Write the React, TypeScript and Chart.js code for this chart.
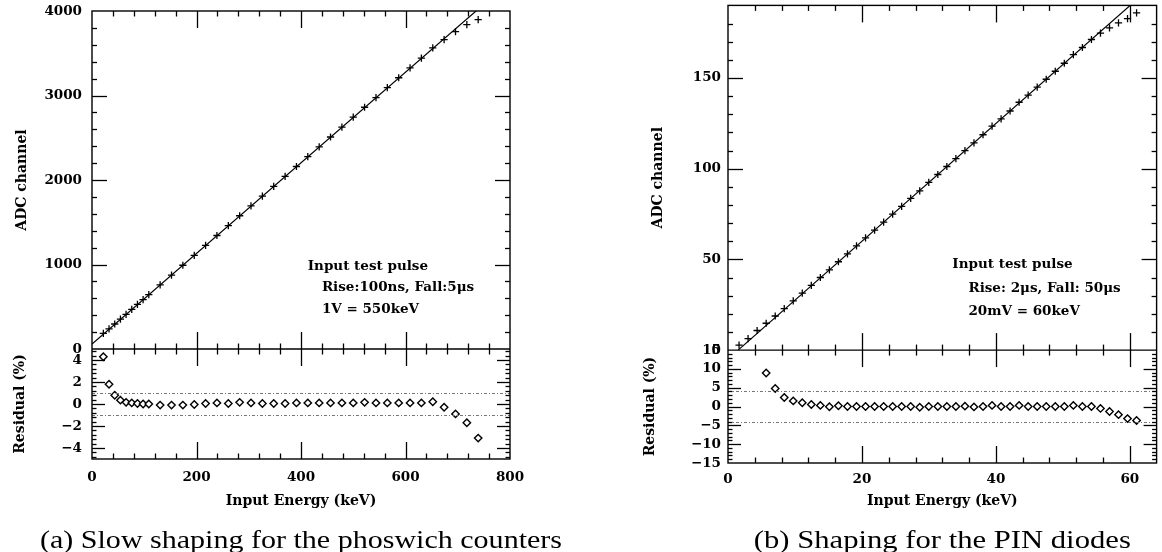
import { useEffect, useRef } from "react";
import { Chart, registerables } from "chart.js";

Chart.register(...registerables);

// ---------- (a) slow shaping, phoswich counters ----------
const energyA = [21.7, 32.6, 43.5, 54.4, 65.2, 76.1, 87.0, 97.8, 108.7, 130.4, 152.2, 173.9, 195.7, 217.4, 239.1, 260.9, 282.6, 304.3, 326.1, 347.8, 369.6, 391.3, 413.0, 434.8, 456.5, 478.3, 500.0, 521.7, 543.5, 565.2, 587.0, 608.7, 630.4, 652.2, 673.9, 695.7, 717.4, 739.1];
const channelA = [184, 239, 296, 353, 410, 468, 527, 584, 643, 758, 875, 991, 1108, 1226, 1343, 1459, 1577, 1693, 1809, 1925, 2042, 2160, 2276, 2393, 2509, 2626, 2743, 2861, 2976, 3093, 3210, 3326, 3442, 3563, 3661, 3755, 3839, 3897];
const residualA = [4.3, 1.8, 0.8, 0.35, 0.15, 0.1, 0.05, 0.0, 0.0, -0.1, -0.1, -0.1, -0.05, 0.05, 0.1, 0.05, 0.15, 0.1, 0.05, 0.05, 0.05, 0.1, 0.1, 0.1, 0.1, 0.1, 0.1, 0.15, 0.1, 0.1, 0.1, 0.1, 0.1, 0.2, -0.3, -0.9, -1.7, -3.1];
const fitEnergyA = [0, 800];
const fitChannelA = [60, 4348];
const bandA = [-1, 1];
const xTicksA = [0, 200, 400, 600, 800];
const channelTicksA = [0, 1000, 2000, 3000, 4000];
const residualTicksA = [-4, -2, 0, 2, 4];

// ---------- (b) shaping for the PIN diodes ----------
const energyB = [1.65, 3.0, 4.35, 5.7, 7.05, 8.4, 9.74, 11.09, 12.44, 13.79, 15.14, 16.49, 17.84, 19.19, 20.54, 21.89, 23.24, 24.59, 25.93, 27.28, 28.63, 29.98, 31.33, 32.68, 34.03, 35.38, 36.73, 38.08, 39.43, 40.78, 42.12, 43.47, 44.82, 46.17, 47.52, 48.87, 50.22, 51.57, 52.92, 54.27, 55.62, 56.97, 58.31, 59.66, 61.01];
const channelB = [2.7, 6.3, 10.8, 14.8, 18.8, 22.9, 27.1, 31.4, 35.7, 40.0, 44.2, 48.7, 53.0, 57.4, 61.8, 66.1, 70.5, 74.9, 79.2, 83.6, 87.8, 92.4, 96.8, 101.2, 105.5, 110.0, 114.2, 118.7, 123.4, 127.4, 131.8, 136.6, 140.5, 144.9, 149.3, 153.7, 158.1, 162.9, 166.8, 171.2, 174.7, 177.6, 180.4, 182.7, 185.9];
const residualB = [null, null, null, 8.9, 4.8, 2.4, 1.5, 1.0, 0.55, 0.3, -0.05, 0.2, 0, 0, 0, 0, 0, 0, 0, 0, -0.2, 0, 0, 0, 0, 0.1, -0.1, 0, 0.3, 0, 0, 0.3, 0, 0, 0, 0, 0, 0.3, 0, 0, -0.5, -1.3, -2.15, -3.2, -3.7];
const fitEnergyB = [1.51, 64];
const fitChannelB = [0, 202.8];
const bandB = [-4, 4];
const xTicksB = [0, 20, 40, 60];
const channelTicksB = [0, 50, 100, 150];
const residualTicksB = [-15, -10, -5, 0, 5, 10, 15];

const SERIF = "'DejaVu Serif', serif";

type Note = { text: string; x: number; y: number };

type Panel = {
  left: number;
  width: number;
  energy: number[];
  channel: number[];
  residual: (number | null)[];
  fitEnergy: number[];
  fitChannel: number[];
  band: number[];
  xTicks: number[];
  channelTicks: number[];
  residualTicks: number[];
  xRange: [number, number];
  channelRange: [number, number];
  residualRange: [number, number];
  xMinor: number;
  xMajor: number;
  channelMinor: number;
  channelMajor: number;
  residualMinor: number;
  residualMajor: number;
  mainH: number;
  resH: number;
  padding: { left: number; top: number; right: number; bottom: number };
  yWidth: number;
  yTickPad: number;
  xTickPad: number;
  adcTitlePad: number;
  resTitlePad: number;
  xTitlePad: number;
  notes: Note[];
  caption: string;
  captionWidth: number;
};

const panelA: Panel = {
  left: 0,
  width: 580,
  energy: energyA,
  channel: channelA,
  residual: residualA,
  fitEnergy: fitEnergyA,
  fitChannel: fitChannelA,
  band: bandA,
  xTicks: xTicksA,
  channelTicks: channelTicksA,
  residualTicks: residualTicksA,
  xRange: [0, 800],
  channelRange: [0, 4000],
  residualRange: [-5, 5],
  xMinor: 40,
  xMajor: 200,
  channelMinor: 200,
  channelMajor: 1000,
  residualMinor: 0.4,
  residualMajor: 2,
  mainH: 338,
  resH: 110,
  padding: { left: 0, top: 11, right: 70, bottom: 33 },
  yWidth: 92,
  yTickPad: 10,
  xTickPad: 10,
  adcTitlePad: 14,
  resTitlePad: 12,
  xTitlePad: 9,
  notes: [
    { text: "Input test pulse", x: 413, y: 976 },
    { text: "Rise:100ns, Fall:5\u03bcs", x: 440, y: 722 },
    { text: "1V = 550keV", x: 440, y: 462 },
  ],
  caption: "(a) Slow shaping for the phoswich counters",
  captionWidth: 522,
};

const panelB: Panel = {
  left: 580,
  width: 582,
  energy: energyB,
  channel: channelB,
  residual: residualB,
  fitEnergy: fitEnergyB,
  fitChannel: fitChannelB,
  band: bandB,
  xTicks: xTicksB,
  channelTicks: channelTicksB,
  residualTicks: residualTicksB,
  xRange: [0, 64],
  channelRange: [0, 190],
  residualRange: [-15, 15],
  xMinor: 4,
  xMajor: 20,
  channelMinor: 10,
  channelMajor: 50,
  residualMinor: 1,
  residualMajor: 5,
  mainH: 348,
  resH: 114,
  padding: { left: 60, top: 1, right: 5, bottom: 29 },
  yWidth: 88,
  yTickPad: 7,
  xTickPad: 8,
  adcTitlePad: 10,
  resTitlePad: 2,
  xTitlePad: 13,
  notes: [
    { text: "Input test pulse", x: 33.5, y: 47.0 },
    { text: "Rise: 2\u03bcs, Fall: 50\u03bcs", x: 35.9, y: 33.9 },
    { text: "20mV = 60keV", x: 35.9, y: 21.3 },
  ],
  caption: "(b) Shaping for the PIN diodes",
  captionWidth: 377,
};

const minus = (v: number) => String(v).replace("-", "\u2212");

function stepValues(min: number, max: number, step: number) {
  const out: number[] = [];
  const start = Math.ceil(min / step - 1e-9);
  const end = Math.floor(max / step + 1e-9);
  for (let i = start; i <= end; i++) out.push(+(i * step).toFixed(6));
  return out;
}
const isMultiple = (v: number, m: number) => Math.abs(v / m - Math.round(v / m)) < 1e-6;

function framePlugin(p: Panel) {
  return {
    id: "frameTicks",
    afterDatasetsDraw(chart: any) {
      const ctx: CanvasRenderingContext2D = chart.ctx;
      const xs = chart.scales.x;
      const ym = chart.scales.y;
      const yr = chart.scales.yr;
      const L = chart.chartArea.left;
      const R = chart.chartArea.right;
      const T = ym.top;
      const M = ym.bottom;
      const B = yr.bottom;
      const seg = (x1: number, y1: number, x2: number, y2: number) => {
        ctx.beginPath();
        ctx.moveTo(x1, y1);
        ctx.lineTo(x2, y2);
        ctx.stroke();
      };
      ctx.save();

      // dotted reference band in the residual panel
      ctx.strokeStyle = "#777";
      ctx.lineWidth = 1;
      ctx.setLineDash([3, 2, 1, 2]);
      for (const v of p.band) {
        const y = Math.round(yr.getPixelForValue(v)) + 0.5;
        seg(L, y, R, y);
      }
      ctx.setLineDash([]);

      // frames
      ctx.strokeStyle = "#000";
      ctx.lineWidth = 1.4;
      ctx.strokeRect(L, T, R - L, B - T);
      seg(L, M, R, M);

      // energy ticks: top edge, shared edge (both ways) and bottom edge
      ctx.lineWidth = 1.3;
      for (const v of stepValues(p.xRange[0], p.xRange[1], p.xMinor)) {
        const x = Math.round(xs.getPixelForValue(v)) + 0.5;
        if (x <= L + 1 || x >= R - 1) continue;
        const len = isMultiple(v, p.xMajor) ? 17 : 5.5;
        seg(x, T, x, T + len);
        seg(x, M - len, x, M + len);
        seg(x, B, x, B - len);
      }
      // channel ticks
      for (const v of stepValues(p.channelRange[0], p.channelRange[1], p.channelMinor)) {
        const y = Math.round(ym.getPixelForValue(v)) + 0.5;
        if (y <= T + 1 || y >= M - 1) continue;
        const len = isMultiple(v, p.channelMajor) ? 15 : 5;
        seg(L, y, L + len, y);
        seg(R, y, R - len, y);
      }
      // residual ticks
      for (const v of stepValues(p.residualRange[0], p.residualRange[1], p.residualMinor)) {
        const y = Math.round(yr.getPixelForValue(v)) + 0.5;
        if (y <= M + 1 || y >= B - 1) continue;
        const len = isMultiple(v, p.residualMajor) ? 13 : 4.5;
        seg(L, y, L + len, y);
        seg(R, y, R - len, y);
      }

      // pulse description
      ctx.fillStyle = "#000";
      ctx.font = `bold 13.5px ${SERIF}`;
      ctx.textAlign = "left";
      ctx.textBaseline = "middle";
      for (const n of p.notes) {
        ctx.fillText(n.text, xs.getPixelForValue(n.x), ym.getPixelForValue(n.y));
      }

      // sub-figure caption
      ctx.font = "25px 'Liberation Serif', serif";
      ctx.textAlign = "center";
      const w = ctx.measureText(p.caption).width;
      ctx.translate((L + R) / 2, 541);
      ctx.scale(p.captionWidth / w, 1);
      ctx.fillText(p.caption, 0, 0);
      ctx.restore();
    },
  };
}

function makeChart(canvas: HTMLCanvasElement, p: Panel) {
  const fixY = (s: any) => {
    s.width = p.yWidth;
    s.paddingTop = 0;
    s.paddingBottom = 0;
  };
  const tickFont = { family: SERIF, size: 13.5, weight: "bold" as const };
  const titleFont = { family: SERIF, size: 14, weight: "bold" as const };
  return new Chart(canvas, {
    type: "scatter",
    data: {
      datasets: [
        {
          type: "line",
          data: p.fitEnergy.map((x, i) => ({ x, y: p.fitChannel[i] })),
          yAxisID: "y",
          borderColor: "#000",
          borderWidth: 1.2,
          pointRadius: 0,
          clip: 0,
        } as any,
        {
          data: p.energy.map((x, i) => ({ x, y: p.channel[i] })),
          yAxisID: "y",
          pointStyle: "cross",
          pointRadius: 3.6,
          borderColor: "#000",
          borderWidth: 1.3,
          backgroundColor: "#000",
          clip: 0,
        },
        {
          data: p.energy.map((x, i) => ({ x, y: p.residual[i] })),
          yAxisID: "yr",
          pointStyle: "rectRot",
          pointRadius: 3.7,
          borderColor: "#000",
          borderWidth: 1.4,
          backgroundColor: "#fff",
        },
      ],
    },
    options: {
      responsive: false,
      animation: false,
      events: [],
      layout: { padding: p.padding },
      plugins: { legend: { display: false }, tooltip: { enabled: false } },
      scales: {
        x: {
          type: "linear",
          min: p.xRange[0],
          max: p.xRange[1],
          grid: { display: false, drawTicks: false },
          border: { display: false },
          afterBuildTicks: (s: any) => {
            s.ticks = p.xTicks.map((value) => ({ value }));
          },
          afterFit: (s: any) => {
            s.height = 60;
            s.paddingLeft = 0;
            s.paddingRight = 0;
          },
          ticks: { font: tickFont, color: "#000", padding: p.xTickPad, maxRotation: 0, autoSkip: false, callback: (v: any) => minus(v) },
          title: { display: true, text: "Input Energy (keV)", font: titleFont, color: "#000", padding: { top: 0, bottom: p.xTitlePad } },
        },
        yr: {
          type: "linear",
          position: "left",
          stack: "panel",
          stackWeight: p.resH,
          min: p.residualRange[0],
          max: p.residualRange[1],
          grid: { display: false, drawTicks: false },
          border: { display: false },
          afterBuildTicks: (s: any) => {
            s.ticks = p.residualTicks.map((value) => ({ value }));
          },
          afterFit: fixY,
          ticks: { font: tickFont, color: "#000", padding: p.yTickPad, autoSkip: false, callback: (v: any) => minus(v) },
          title: { display: true, text: "Residual (%)", font: titleFont, color: "#000", padding: { top: p.resTitlePad, bottom: 0 } },
        },
        y: {
          type: "linear",
          position: "left",
          stack: "panel",
          stackWeight: p.mainH,
          min: p.channelRange[0],
          max: p.channelRange[1],
          grid: { display: false, drawTicks: false },
          border: { display: false },
          afterBuildTicks: (s: any) => {
            s.ticks = p.channelTicks.map((value) => ({ value }));
          },
          afterFit: fixY,
          ticks: { font: tickFont, color: "#000", padding: p.yTickPad, autoSkip: false, callback: (v: any) => minus(v) },
          title: { display: true, text: "ADC channel", font: titleFont, color: "#000", padding: { top: p.adcTitlePad, bottom: 0 } },
        },
      },
    } as any,
    plugins: [framePlugin(p)],
  });
}

function PanelChart({ panel }: { panel: Panel }) {
  const ref = useRef<HTMLCanvasElement>(null);
  useEffect(() => {
    const chart = makeChart(ref.current!, panel);
    return () => chart.destroy();
  }, [panel]);
  return (
    <canvas
      ref={ref}
      width={panel.width}
      height={552}
      style={{ position: "absolute", left: panel.left, top: 0, width: panel.width, height: 552 }}
    />
  );
}

export default function App() {
  return (
    <div style={{ position: "fixed", left: 0, top: 0, width: 1162, height: 552, background: "#fff", overflow: "hidden" }}>
      <PanelChart panel={panelA} />
      <PanelChart panel={panelB} />
    </div>
  );
}
